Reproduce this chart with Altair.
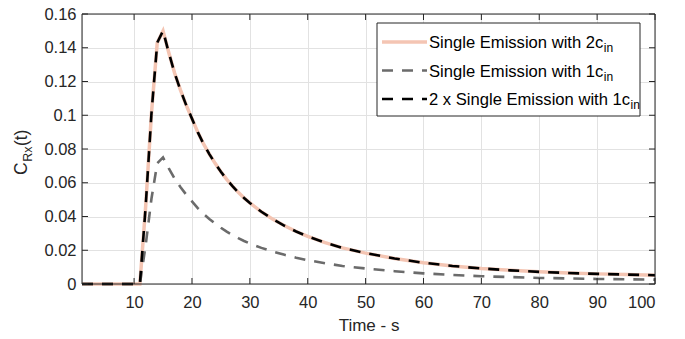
import altair as alt
import pandas as pd

# ---- data ----
t = [1, 11, 12, 13, 14, 15, 16, 17, 18, 19, 20, 21, 22, 23, 24, 25, 26, 27, 28, 29,
     30, 32, 34, 36, 38, 40, 43, 46, 50, 55, 60, 65, 70, 75, 80, 85, 90, 95, 100]
single_2c = [0, 0, 0.046, 0.101, 0.143, 0.150, 0.137, 0.125, 0.115, 0.106, 0.098,
             0.090, 0.083, 0.077, 0.0715, 0.0665, 0.062, 0.058, 0.0543, 0.051,
             0.048, 0.0428, 0.0383, 0.0345, 0.0311, 0.0282, 0.0245, 0.0214,
             0.0183, 0.0151, 0.0126, 0.0107, 0.0092, 0.0081, 0.0072, 0.0065,
             0.0060, 0.0056, 0.0052]
single_1c = [0, 0, 0.023, 0.0505, 0.0715, 0.075, 0.0685, 0.0625, 0.0575, 0.053, 0.049,
             0.045, 0.0415, 0.0385, 0.0358, 0.0333, 0.031, 0.029, 0.0272, 0.0255,
             0.024, 0.0214, 0.0192, 0.0173, 0.0156, 0.0141, 0.0123, 0.0107,
             0.0092, 0.0076, 0.0063, 0.0054, 0.0046, 0.0041, 0.0036, 0.0033,
             0.0030, 0.0028, 0.0026]
double_1c = [0, 0, 0.046, 0.101, 0.143, 0.150, 0.137, 0.125, 0.115, 0.106, 0.098,
             0.090, 0.083, 0.077, 0.0715, 0.0665, 0.062, 0.058, 0.0543, 0.051,
             0.048, 0.0428, 0.0383, 0.0345, 0.0311, 0.0282, 0.0245, 0.0214,
             0.0183, 0.0151, 0.0126, 0.0107, 0.0092, 0.0081, 0.0072, 0.0065,
             0.0060, 0.0056, 0.0052]

x_ticks = [10, 20, 30, 40, 50, 60, 70, 80, 90, 100]
y_ticks = [0, 0.02, 0.04, 0.06, 0.08, 0.1, 0.12, 0.14, 0.16]

legend_main = ["Single Emission with 2c", "Single Emission with 1c",
               "2 x Single Emission with 1c"]
legend_sub = "in"
x_title = "Time - s"
y_title_parts = ["C", "Rx", "(t)"]

# ---- style ----
TOP = 6                      # plot top on page = 8 + TOP
PT = 8 + TOP
W, H = 573, 270
FONT = "Liberation Sans"
TXT = "#262626"
PINK = "#F4C5B3"
GRAY = "#6B6B6B"
BLACK = "#000000"
DASH = [11, 9]

# Arial / Liberation Sans advance widths (per em)
CW = {' ': .278, '(': .333, ')': .333, '-': .333, '.': .278, 'x': .5,
      'C': .722, 'E': .667, 'R': .722, 'S': .667, 'T': .611,
      'c': .5, 'e': .556, 'g': .556, 'h': .556, 'i': .222, 'l': .222,
      'm': .833, 'n': .556, 'o': .556, 's': .5, 't': .278, 'w': .722}
for d in "0123456789":
    CW[d] = .556


def text_w(s, size):
    return sum(CW.get(ch, .556) for ch in s) * size


df = pd.DataFrame({"t": t, "c2": single_2c, "c1": single_1c, "c1x2": double_1c})
one = pd.DataFrame({"k": [0]})

xs = alt.Scale(domain=[1, 100], nice=False, zero=False)
ys = alt.Scale(domain=[0, 0.16], nice=False)

xaxis = alt.Axis(values=x_ticks, title=x_title, grid=True, gridColor="#E2E2E2",
                 ticks=False, domain=False, labelFont=FONT, labelFontSize=16.5,
                 labelColor=TXT, labelPadding=10, titleFont=FONT, titleFontSize=17,
                 titleFontWeight="normal", titleColor=TXT, titlePadding=7)
yaxis = alt.Axis(values=y_ticks, title=None, grid=True, gridColor="#E2E2E2",
                 ticks=False, domain=False, labelFont=FONT, labelFontSize=16.5,
                 labelColor=TXT, labelPadding=6,
                 labelExpr="format(datum.value, '~g')")

pink = alt.Chart(df).mark_line(color=PINK, strokeWidth=3.5).encode(
    x=alt.X("t:Q", scale=xs, axis=xaxis),
    y=alt.Y("c2:Q", scale=ys, axis=yaxis))
gray = alt.Chart(df).mark_line(color=GRAY, strokeWidth=2.6, strokeDash=DASH).encode(
    x=alt.X("t:Q", scale=xs, axis=xaxis),
    y=alt.Y("c1:Q", scale=ys, axis=yaxis))
black = alt.Chart(df).mark_line(color=BLACK, strokeWidth=2.6, strokeDash=DASH).encode(
    x=alt.X("t:Q", scale=xs, axis=xaxis),
    y=alt.Y("c1x2:Q", scale=ys, axis=yaxis))

frame = alt.Chart(one).mark_rect(fillOpacity=0, stroke=TXT, strokeWidth=1).encode(
    x=alt.value(0), x2=alt.value(W), y=alt.value(0), y2=alt.value(H))

xt = pd.DataFrame({"t": x_ticks})
yt = pd.DataFrame({"v": y_ticks})
TL = 6
tick_b = alt.Chart(xt).mark_rule(color=TXT, strokeWidth=1).encode(
    x=alt.X("t:Q", scale=xs, axis=xaxis), y=alt.value(H), y2=alt.value(H - TL))
tick_t = alt.Chart(xt).mark_rule(color=TXT, strokeWidth=1).encode(
    x=alt.X("t:Q", scale=xs, axis=xaxis), y=alt.value(0), y2=alt.value(TL))
tick_l = alt.Chart(yt).mark_rule(color=TXT, strokeWidth=1).encode(
    y=alt.Y("v:Q", scale=ys, axis=yaxis), x=alt.value(0), x2=alt.value(TL))
tick_r = alt.Chart(yt).mark_rule(color=TXT, strokeWidth=1).encode(
    y=alt.Y("v:Q", scale=ys, axis=yaxis), x=alt.value(W), x2=alt.value(W - TL))

# ---- legend (page coordinates converted to plot-relative) ----
LX0, LX1 = 295, 558
LY0, LY1 = 23 - PT, 116 - PT
rows_y = [42 - PT, 70.5 - PT, 99 - PT]
LFS = 16.6
SFS = 12
lab_x = 347
layers = [pink, gray, black, frame, tick_b, tick_t, tick_l, tick_r]
layers.append(alt.Chart(one).mark_rect(fill="white", stroke=TXT, strokeWidth=1).encode(
    x=alt.value(LX0), x2=alt.value(LX1), y=alt.value(LY0), y2=alt.value(LY1)))
styles = [(PINK, 3.5, None), (GRAY, 2.6, DASH), (BLACK, 2.6, DASH)]
for (col, sw, dash), ry, lab in zip(styles, rows_y, legend_main):
    kw = dict(color=col, strokeWidth=sw)
    if dash:
        kw["strokeDash"] = dash
    layers.append(alt.Chart(one).mark_rule(**kw).encode(
        x=alt.value(300), x2=alt.value(345), y=alt.value(ry)))
    layers.append(alt.Chart(one).mark_text(
        text=lab, font=FONT, fontSize=LFS, color=BLACK, align="left",
        baseline="alphabetic").encode(x=alt.value(lab_x), y=alt.value(ry + 6)))
    layers.append(alt.Chart(one).mark_text(
        text=legend_sub, font=FONT, fontSize=SFS, color=BLACK, align="left",
        baseline="alphabetic").encode(
        x=alt.value(lab_x + text_w(lab, LFS) + 0.5), y=alt.value(ry + 10)))

# ---- y title with subscript (rotated) ----
YT_FS, YS_FS = 17.5, 12.5
ybase_x = -55.5
y0 = 175 - PT
c_w = text_w(y_title_parts[0], YT_FS)
s_w = text_w(y_title_parts[1], YS_FS)
layers.append(alt.Chart(one).mark_text(
    text=y_title_parts[0], font=FONT, fontSize=YT_FS, color=TXT, align="left",
    baseline="alphabetic", angle=270).encode(x=alt.value(ybase_x), y=alt.value(y0)))
layers.append(alt.Chart(one).mark_text(
    text=y_title_parts[1], font=FONT, fontSize=YS_FS, color=TXT, align="left",
    baseline="alphabetic", angle=270).encode(
    x=alt.value(ybase_x + 5), y=alt.value(y0 - c_w - 0.5)))
layers.append(alt.Chart(one).mark_text(
    text=y_title_parts[2], font=FONT, fontSize=YT_FS, color=TXT, align="left",
    baseline="alphabetic", angle=270).encode(
    x=alt.value(ybase_x), y=alt.value(y0 - c_w - s_w - 1)))

chart = alt.layer(*layers).properties(
    width=W, height=H,
    autosize=alt.AutoSizeParams(type="none"),
    padding={"left": 74, "top": TOP, "right": 22, "bottom": 331 - TOP - H},
).configure_view(stroke=None).configure(background="white")

chart.save("out.html", embed_options={"renderer": "svg", "actions": False})
